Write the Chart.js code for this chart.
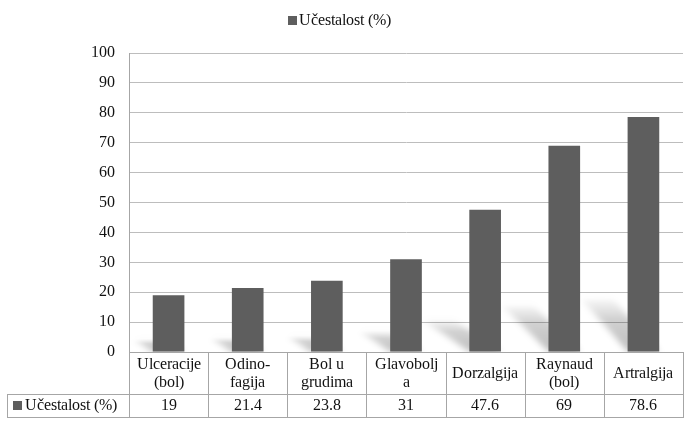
<!DOCTYPE html>
<html>
<head>
<meta charset="utf-8">
<style>
@font-face { font-family: 'ChartSerif'; src: local('Liberation Serif'), local('LiberationSerif'), local('LiberationSerif-Regular'); font-weight: normal; font-style: normal; }
html, body { margin: 0; padding: 0; background: #fff; font-family: 'ChartSerif', 'Liberation Serif', serif; }
</style>
<script src="https://cdn.jsdelivr.net/npm/chart.js@4/dist/chart.umd.min.js"></script>
</head>
<body>
<canvas id="c" width="685" height="421"></canvas>
<script>
const categories = [
  ["Ulceracije", "(bol)"],
  ["Odino-", "fagija"],
  ["Bol u", "grudima"],
  ["Glavobolj", "a"],
  ["Dorzalgija"],
  ["Raynaud", "(bol)"],
  ["Artralgija"]
];
const seriesName = "Učestalost (%)";
const values = [19, 21.4, 23.8, 31, 47.6, 69, 78.6];
const valueLabels = ["19", "21.4", "23.8", "31", "47.6", "69", "78.6"];
const yTicks = [0, 10, 20, 30, 40, 50, 60, 70, 80, 90, 100];

const FONT = "ChartSerif, 'Liberation Serif', 'Times New Roman', serif";
const BAR = '#5e5e5e';
const TXT = '#111';
const LINE = '#a6a6a6';

const shadowPlugin = {
  id: 'shadows',
  beforeDatasetsDraw(chart) {
    const ctx = chart.ctx, a = chart.chartArea;
    const meta = chart.getDatasetMeta(0);
    const OFF = 2000;
    ctx.save();
    ctx.beginPath();
    ctx.rect(a.left, a.top, a.right - a.left, a.bottom - a.top);
    ctx.clip();
    ctx.shadowColor = 'rgba(0,0,0,1)';
    ctx.shadowBlur = 6;
    ctx.shadowOffsetX = -OFF;
    ctx.shadowOffsetY = 0;
    meta.data.forEach(b => {
      const h = b.base - b.y;
      const dy = 0.23 * h;
      const dx = Math.min(0.33 * h, 47);
      const xl = b.x - b.width / 2 + OFF, xr = b.x + b.width / 2 + OFF;
      const g = ctx.createLinearGradient(0, b.base, 0, b.base - dy);
      g.addColorStop(0, 'rgba(0,0,0,0.26)');
      g.addColorStop(0.6, 'rgba(0,0,0,0.18)');
      g.addColorStop(1, 'rgba(0,0,0,0.02)');
      ctx.fillStyle = g;
      ctx.beginPath();
      ctx.moveTo(xl, b.base);
      ctx.lineTo(xr, b.base);
      ctx.lineTo(xr - dx, b.base - dy);
      ctx.lineTo(xl - dx, b.base - dy);
      ctx.closePath();
      ctx.fill();
    });
    ctx.restore();
  }
};

const tablePlugin = {
  id: 'table',
  afterDraw(chart) {
    const ctx = chart.ctx, a = chart.chartArea;
    const xs = chart.scales.x;
    const n = categories.length;
    const colW = (a.right - a.left) / n;
    const top = a.bottom, mid = 394, bot = 417, leftX = 7;
    ctx.save();
    ctx.strokeStyle = LINE;
    ctx.lineWidth = 1;
    ctx.beginPath();
    ctx.moveTo(a.left, top + 0.5); ctx.lineTo(a.right, top + 0.5);
    ctx.moveTo(leftX, mid + 0.5); ctx.lineTo(a.right, mid + 0.5);
    ctx.moveTo(leftX, bot + 0.5); ctx.lineTo(a.right, bot + 0.5);
    ctx.moveTo(leftX + 0.5, mid); ctx.lineTo(leftX + 0.5, bot + 1);
    for (let i = 0; i <= n; i++) {
      const x = Math.round(a.left + i * colW) + 0.5;
      ctx.moveTo(x, top); ctx.lineTo(x, bot + 1);
    }
    ctx.stroke();

    ctx.fillStyle = TXT;
    ctx.font = '16px ' + FONT;
    ctx.textAlign = 'center';
    ctx.textBaseline = 'middle';
    categories.forEach((lines, i) => {
      const cx = xs.getPixelForValue(i);
      if (lines.length === 1) {
        ctx.fillText(lines[0], cx, 374);
      } else {
        ctx.fillText(lines[0], cx, 365);
        ctx.fillText(lines[1], cx, 383);
      }
      ctx.fillText(valueLabels[i], cx, 406);
    });
    ctx.fillStyle = BAR;
    ctx.fillRect(13, 401, 9, 9);
    ctx.fillStyle = TXT;
    ctx.textAlign = 'left';
    ctx.fillText(seriesName, 25, 406);
    ctx.fillStyle = BAR;
    ctx.fillRect(288, 16, 9, 9);
    ctx.fillStyle = TXT;
    ctx.fillText(seriesName, 299, 21);
    ctx.restore();
  }
};

const chart = new Chart(document.getElementById('c'), {
  type: 'bar',
  data: {
    labels: categories.map(c => c.join(' ')),
    datasets: [{
      label: seriesName,
      data: values,
      backgroundColor: BAR,
      borderWidth: 0,
      barPercentage: 0.4,
      categoryPercentage: 1.0
    }]
  },
  options: {
    responsive: false,
    animation: false,
    layout: { padding: { left: 0, right: 2, top: 53, bottom: 3 } },
    plugins: { legend: { display: false }, tooltip: { enabled: false } },
    scales: {
      x: {
        grid: { display: false },
        border: { display: false },
        ticks: { display: false },
        afterFit(s) { s.height = 66; }
      },
      y: {
        min: 0, max: 100,
        afterBuildTicks(s) { s.ticks = yTicks.map(v => ({ value: v })); },
        grid: { color: '#bdbdbd', lineWidth: 1, drawTicks: false },
        border: { display: true, color: LINE, width: 1 },
        ticks: { color: TXT, padding: 14, font: { family: FONT, size: 16 } },
        afterFit(s) { s.width = 129; }
      }
    }
  },
  plugins: [shadowPlugin, tablePlugin]
});
if (document.fonts && document.fonts.load) {
  Promise.all([
    document.fonts.load("16px ChartSerif", seriesName),
    document.fonts.load("16px 'Liberation Serif'", seriesName)
  ]).then(() => chart.update('none')).catch(() => {});
}
</script>
</body>
</html>
